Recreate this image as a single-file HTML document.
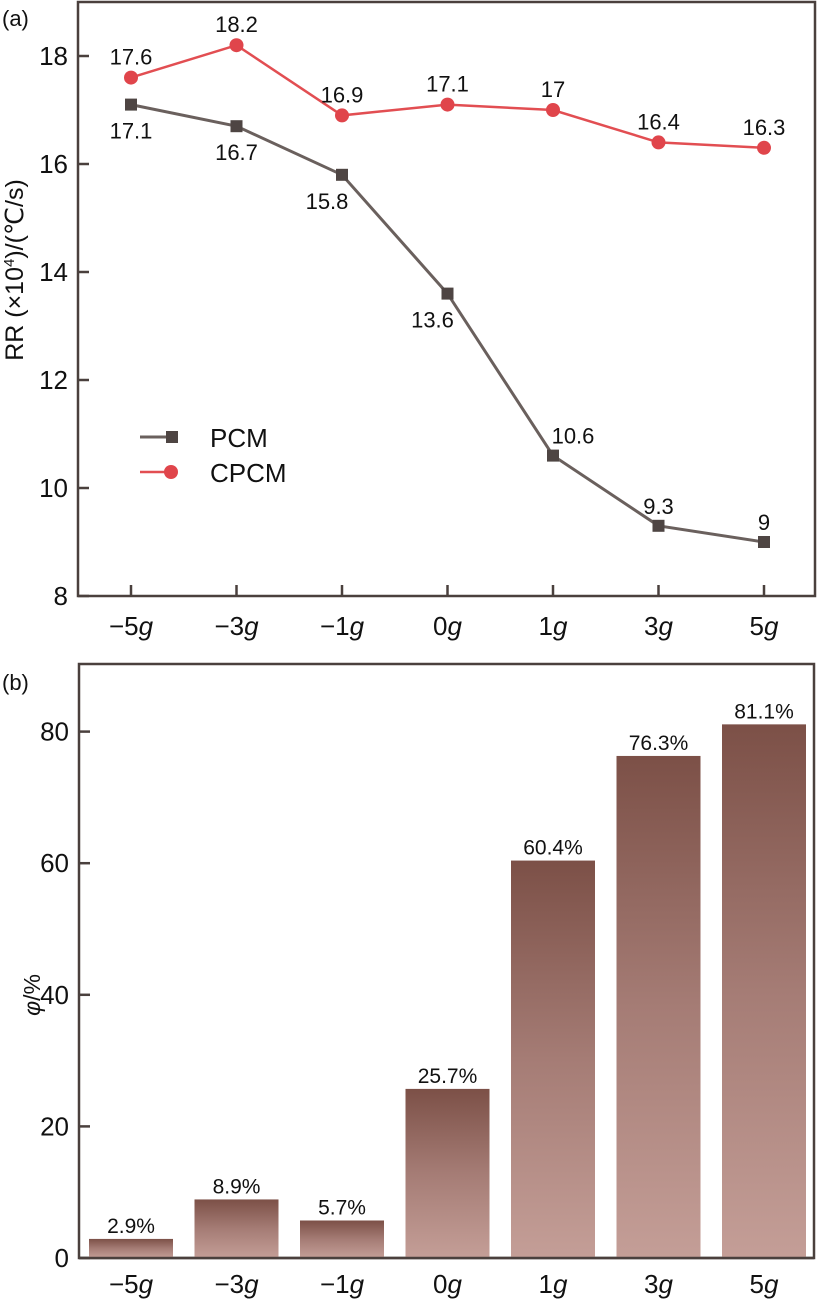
<!DOCTYPE html>
<html><head><meta charset="utf-8"><style>
body{margin:0;background:#fff;}
svg text{font-family:"Liberation Sans",sans-serif;fill:#111;}
</style></head><body>
<svg id="c" width="820" height="1301" viewBox="0 0 820 1301" xmlns="http://www.w3.org/2000/svg">
<defs><linearGradient id="bg" x1="0" y1="0" x2="0" y2="1"><stop offset="0" stop-color="#7c5047"/><stop offset="0.5" stop-color="#a57c75"/><stop offset="1" stop-color="#c49e97"/></linearGradient></defs>
</svg>
<script>
const cats=['−5','−3','−1','0','1','3','5'];
const pcm=[17.1,16.7,15.8,13.6,10.6,9.3,9];
const cpcm=[17.6,18.2,16.9,17.1,17,16.4,16.3];
const yTicksA=[8,10,12,14,16,18];
const phi=[2.9,8.9,5.7,25.7,60.4,76.3,81.1];
const yTicksB=[0,20,40,60,80];
const NS='http://www.w3.org/2000/svg';
const svg=document.getElementById('c');
function mk(t,a,p){const e=document.createElementNS(NS,t);for(const k in a)e.setAttribute(k,a[k]);(p||svg).appendChild(e);return e;}
const ax='#4a403d';
const xC=i=>131+i*105.5;
// chart a
const yA=v=>596-(v-8)*54;
const ga=mk('g',{});
const fa=mk('rect',{x:78,y:2,width:737,height:594,fill:'none',stroke:ax,'stroke-width':2.5},ga);

yTicksA.forEach(v=>{const l=mk('line',{x1:78,x2:89,y1:yA(v),y2:yA(v),stroke:ax,'stroke-width':2.5},ga);

const t=mk('text',{x:68,y:yA(v)+9,'text-anchor':'end','font-size':26},ga);t.textContent=v;
});
cats.forEach((c,i)=>{const l=mk('line',{x1:xC(i),x2:xC(i),y1:596,y2:585,stroke:ax,'stroke-width':2.5},ga);

const t=mk('text',{x:xC(i),y:635,'text-anchor':'middle','font-size':26},ga);t.innerHTML=c+'<tspan font-style="italic">g</tspan>';
});
const yl=mk('text',{x:0,y:0,transform:'translate(23,270) rotate(-90)','text-anchor':'middle','font-size':25},ga);
yl.innerHTML='RR (×10<tspan font-size="15" dy="-9">4</tspan><tspan dy="9">)/(℃/s)</tspan>';

const pl=mk('polyline',{points:pcm.map((v,i)=>xC(i)+','+yA(v)).join(' '),fill:'none',stroke:'#6a605d','stroke-width':3},ga);

const cl=mk('polyline',{points:cpcm.map((v,i)=>xC(i)+','+yA(v)).join(' '),fill:'none',stroke:'#e24e52','stroke-width':2.5},ga);

const pOff=[[0,34],[0,34],[-15,34],[-15,34],[20,-12],[0,-12],[0,-12]];
pcm.forEach((v,i)=>{const r=mk('rect',{x:xC(i)-6,y:yA(v)-6,width:12,height:12,fill:'#4e4543'},ga);

const t=mk('text',{x:xC(i)+pOff[i][0],y:yA(v)+pOff[i][1],'text-anchor':'middle','font-size':22},ga);t.textContent=v;
});
cpcm.forEach((v,i)=>{const r=mk('circle',{cx:xC(i),cy:yA(v),r:7,fill:'#e0454b'},ga);

const t=mk('text',{x:xC(i),y:yA(v)-13,'text-anchor':'middle','font-size':22},ga);t.textContent=v;
});
const lg=mk('g',{},ga);
mk('line',{x1:140,x2:172,y1:437,y2:437,stroke:'#6a605d','stroke-width':3},lg);
mk('rect',{x:166,y:431,width:12,height:12,fill:'#4e4543'},lg);
const t1=mk('text',{x:210,y:447,'font-size':26},lg);t1.textContent='PCM';
mk('line',{x1:140,x2:172,y1:472,y2:472,stroke:'#e24e52','stroke-width':2.5},lg);
mk('circle',{cx:171,cy:472,r:7,fill:'#e0454b'},lg);
const t2=mk('text',{x:210,y:482,'font-size':26},lg);t2.textContent='CPCM';
const la=mk('text',{x:2,y:26,'font-size':22},ga);la.textContent='(a)';

// chart b
const yB=v=>1258-v*6.58;
const gb=mk('g',{});
const fb=mk('rect',{x:79,y:664,width:735,height:594,fill:'none',stroke:ax,'stroke-width':2.5},gb);

yTicksB.forEach(v=>{const l=mk('line',{x1:79,x2:90,y1:yB(v),y2:yB(v),stroke:ax,'stroke-width':2.5},gb);

const t=mk('text',{x:69,y:yB(v)+9,'text-anchor':'end','font-size':26},gb);t.textContent=v;
});
phi.forEach((v,i)=>{const b=mk('rect',{x:xC(i)-42,y:yB(v),width:84,height:yB(0)-yB(v),fill:'url(#bg)'},gb);

const t=mk('text',{x:xC(i),y:yB(v)-6,'text-anchor':'middle','font-size':21},gb);t.textContent=v+'%';
});
const base=mk('line',{x1:79,x2:814,y1:1258,y2:1258,stroke:ax,'stroke-width':2.5},gb);
cats.forEach((c,i)=>{const t=mk('text',{x:xC(i),y:1293,'text-anchor':'middle','font-size':26},gb);t.innerHTML=c+'<tspan font-style="italic">g</tspan>';
});
const yb=mk('text',{x:0,y:0,transform:'translate(40,995) rotate(-90)','text-anchor':'middle','font-size':23},gb);
yb.innerHTML='<tspan font-style="italic">φ</tspan>/%';

const lb=mk('text',{x:2,y:690,'font-size':22},gb);lb.textContent='(b)';

</script>
</body></html>
